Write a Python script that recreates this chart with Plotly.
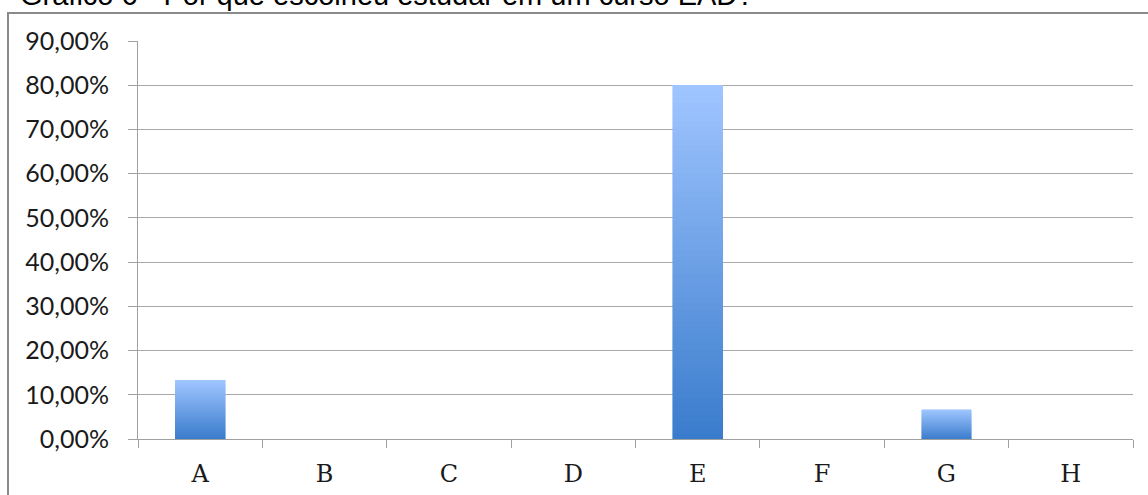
import plotly.graph_objects as go

# Survey answers (share of respondents per option)
categories = ["A", "B", "C", "D", "E", "F", "G", "H"]
shares = [0.1333, 0.0, 0.0, 0.0, 0.80, 0.0, 0.0667, 0.0]
y_ticks = [0.0, 0.1, 0.2, 0.3, 0.4, 0.5, 0.6, 0.7, 0.8, 0.9]
title_text = "Gráfico 6 - Por que escolheu estudar em um curso EAD?"

W, H = 1148, 495
M_L, M_R, M_T, M_B = 138, 15, 41, 56
PLOT_W = W - M_L - M_R
PLOT_H = H - M_T - M_B


def px_x(px):
    return (px - M_L) / PLOT_W


def px_y(py):
    return (H - M_B - py) / PLOT_H


# Vertical gradient: each bar is split into thin stacked slices,
# dark blue at the base fading to light blue at the top.
BOTTOM_RGB = (58, 124, 204)
TOP_RGB = (159, 197, 255)
N_SLICES = 60

fig = go.Figure()

for k in range(N_SLICES):
    t = k / (N_SLICES - 1)
    rgb = tuple(round(b + (u - b) * t) for b, u in zip(BOTTOM_RGB, TOP_RGB))
    color = "rgb(%d,%d,%d)" % rgb
    fig.add_trace(go.Bar(
        x=categories,
        y=[v / N_SLICES if v > 0 else None for v in shares],
        width=0.4,
        marker=dict(color=color, line=dict(color=color, width=0.6)),
        hoverinfo="skip",
        showlegend=False,
    ))

# Chart title (partly above the frame)
fig.add_annotation(
    text=title_text,
    xref="paper", yref="paper",
    x=px_x(18), y=px_y(13),
    xanchor="left", yanchor="bottom",
    showarrow=False,
    font=dict(family="Liberation Sans, Arial, sans-serif", size=29, color="#000000"),
)

# Outer frame of the chart area
fig.add_shape(
    type="rect",
    xref="paper", yref="paper",
    x0=px_x(8), x1=px_x(1170),
    y0=px_y(530), y1=px_y(13),
    line=dict(color="#8a8a8a", width=2),
    fillcolor="rgba(0,0,0,0)",
    layer="below",
)

AXIS_GRAY = "#a0a0a0"

fig.update_layout(
    width=W, height=H,
    margin=dict(l=M_L, r=M_R, t=M_T, b=M_B),
    barmode="stack",
    paper_bgcolor="white",
    plot_bgcolor="white",
    separators=",.",
    xaxis=dict(
        type="category",
        automargin=False,
        showline=True, linecolor=AXIS_GRAY, linewidth=1,
        ticks="outside", tickson="boundaries", ticklen=8,
        tickcolor=AXIS_GRAY, tickwidth=1,
        showgrid=False,
        tickfont=dict(family="DejaVu Serif, serif", size=24, color="#1a1a1a"),
        ticklabelstandoff=13,
    ),
    yaxis=dict(
        range=[0, 0.9],
        automargin=False,
        tickvals=y_ticks,
        tickformat=".2%",
        showgrid=True, gridcolor="#a8a8a8", gridwidth=1,
        showline=True, linecolor=AXIS_GRAY, linewidth=1,
        ticks="outside", ticklen=9, tickcolor=AXIS_GRAY, tickwidth=1,
        zeroline=False,
        tickfont=dict(family="Lato, sans-serif", size=25, color="#1a1a1a"),
        ticklabelstandoff=14,
    ),
)

fig.write_html("out.html")
